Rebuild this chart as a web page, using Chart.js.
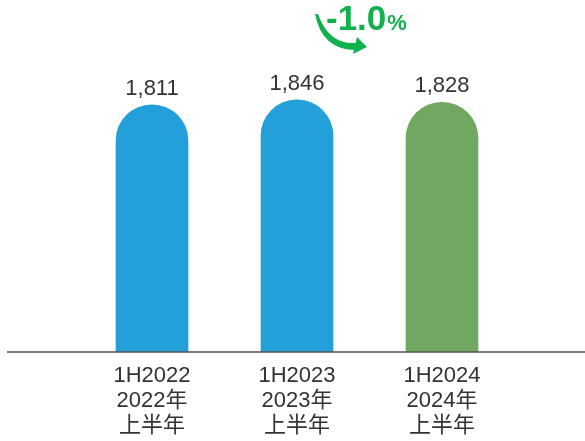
<!DOCTYPE html>
<html>
<head>
<meta charset="utf-8">
<script src="https://cdn.jsdelivr.net/npm/chart.js@4/dist/chart.umd.min.js"></script>
<style>
  body { margin: 0; background: #fff; }
  #wrap { width: 585px; height: 441px; }
</style>
</head>
<body>
<div id="wrap"><canvas id="myChart" width="585" height="441"></canvas></div>
<script>
const categories = [['1H2022', '2022年', '上半年'], ['1H2023', '2023年', '上半年'], ['1H2024', '2024年', '上半年']];
const values = [1811, 1846, 1828];
const barColors = ['#239fda', '#239fda', '#70a862'];
const changeLabel = '-1.0';

const fontFamily = '"Liberation Sans", Arial, "Noto Sans CJK TC", sans-serif';

const valueLabels = {
    id: 'valueLabels',
    afterDatasetsDraw(chart) {
        const ctx = chart.ctx;
        const meta = chart.getDatasetMeta(0);
        const area = chart.chartArea;
        ctx.save();

        // base line, runs almost edge to edge
        ctx.strokeStyle = '#555';
        ctx.lineWidth = 1.5;
        ctx.beginPath();
        ctx.moveTo(7, area.bottom);
        ctx.lineTo(585, area.bottom);
        ctx.stroke();

        ctx.fillStyle = '#333';
        ctx.font = '22px ' + fontFamily;
        ctx.textAlign = 'center';
        ctx.textBaseline = 'alphabetic';
        meta.data.forEach((bar, i) => {
            ctx.fillText(values[i].toLocaleString('en-US'), bar.x, bar.y - 10);
        });

        // change badge with curved arrow
        const green = '#13b04e';
        ctx.fillStyle = green;
        ctx.textAlign = 'left';
        ctx.font = 'bold 35px ' + fontFamily;
        ctx.fillText(changeLabel, 326, 30);
        const w = ctx.measureText(changeLabel).width;
        ctx.font = 'bold 22px ' + fontFamily;
        ctx.fillText('%', 326 + w + 1, 30);

        ctx.beginPath();
        ctx.moveTo(315, 14);
        ctx.quadraticCurveTo(322, 50, 356, 50);
        ctx.lineTo(356, 43);
        ctx.quadraticCurveTo(329, 45, 318, 14);
        ctx.closePath();
        ctx.fill();
        ctx.beginPath();
        ctx.moveTo(357, 37);
        ctx.lineTo(367, 47);
        ctx.lineTo(353, 54);
        ctx.closePath();
        ctx.fill();
        ctx.restore();
    }
};

const myChart = new Chart(document.getElementById('myChart').getContext('2d'), {
    type: 'bar',
    data: {
        labels: categories,
        datasets: [{
            data: values,
            backgroundColor: barColors,
            barThickness: 72,
            borderRadius: { topLeft: 36, topRight: 36 },
            borderSkipped: 'bottom'
        }]
    },
    options: {
        responsive: false,
        animation: false,
        layout: { padding: { left: 79.5, right: 70.5, top: 0, bottom: 0 } },
        plugins: { legend: { display: false }, tooltip: { enabled: false } },
        scales: {
            x: {
                offset: true,
                grid: { display: false },
                border: { display: false },
                afterFit: (scale) => { scale.height = 89; },
                ticks: {
                    color: '#333',
                    padding: 3,
                    maxRotation: 0,
                    autoSkip: false,
                    font: { size: 22, family: fontFamily, lineHeight: 1.15 }
                }
            },
            y: {
                display: false,
                min: 0,
                max: 2578
            }
        }
    },
    plugins: [valueLabels]
});
</script>
</body>
</html>
